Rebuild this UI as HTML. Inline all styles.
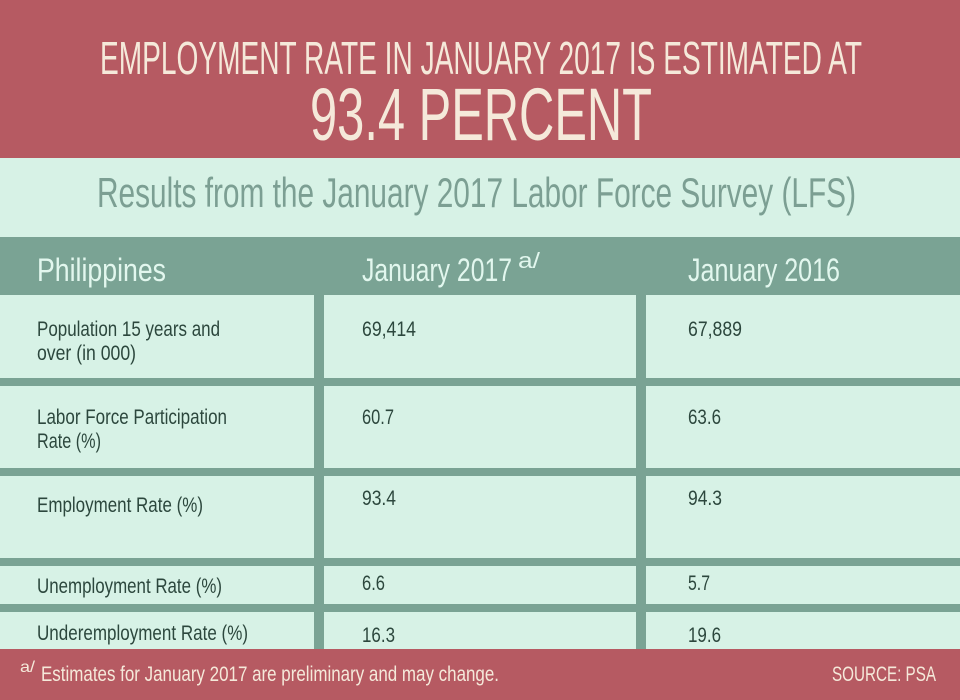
<!DOCTYPE html>
<html><head><meta charset="utf-8"><style>html,body{margin:0;padding:0;background:#d7f2e6}svg{display:block}text{font-family:"Liberation Sans",sans-serif}</style></head>
<body>
<svg width="960" height="700" viewBox="0 0 960 700">
<rect x="0" y="0" width="960" height="158" fill="#b65a62"/>
<text x="100" y="74" font-size="46" fill="#f5e9da" textLength="762" lengthAdjust="spacingAndGlyphs">EMPLOYMENT RATE IN JANUARY 2017 IS ESTIMATED AT</text>
<text x="310" y="140" font-size="74" fill="#f5e9da" textLength="342" lengthAdjust="spacingAndGlyphs">93.4 PERCENT</text>
<rect x="0" y="158" width="960" height="79" fill="#d7f2e6"/>
<text x="97" y="207" font-size="42" fill="#7c9f93" textLength="759" lengthAdjust="spacingAndGlyphs">Results from the January 2017 Labor Force Survey (LFS)</text>
<rect x="0" y="237" width="960" height="413" fill="#7aa394"/>
<g fill="#d7f2e6">
<rect x="0" y="295" width="314" height="83"/><rect x="324" y="295" width="312" height="83"/><rect x="646" y="295" width="314" height="83"/>
<rect x="0" y="386" width="314" height="82"/><rect x="324" y="386" width="312" height="82"/><rect x="646" y="386" width="314" height="82"/>
<rect x="0" y="476" width="314" height="82"/><rect x="324" y="476" width="312" height="82"/><rect x="646" y="476" width="314" height="82"/>
<rect x="0" y="566" width="314" height="38"/><rect x="324" y="566" width="312" height="38"/><rect x="646" y="566" width="314" height="38"/>
<rect x="0" y="612" width="314" height="38"/><rect x="324" y="612" width="312" height="38"/><rect x="646" y="612" width="314" height="38"/>
</g>
<g fill="#e2f7ee" font-size="32">
<text x="37" y="281" textLength="129" lengthAdjust="spacingAndGlyphs">Philippines</text>
<text x="362" y="281" textLength="150" lengthAdjust="spacingAndGlyphs">January 2017</text>
<text x="518" y="268" font-size="22" textLength="22" lengthAdjust="spacingAndGlyphs">a/</text>
<text x="688" y="281" textLength="152" lengthAdjust="spacingAndGlyphs">January 2016</text>
</g>
<g fill="#2c473d" font-size="21">
<text x="37" y="336" textLength="183" lengthAdjust="spacingAndGlyphs">Population 15 years and</text>
<text x="37" y="360" textLength="99" lengthAdjust="spacingAndGlyphs">over (in 000)</text>
<text x="362" y="336" textLength="54" lengthAdjust="spacingAndGlyphs">69,414</text>
<text x="688" y="336" textLength="54" lengthAdjust="spacingAndGlyphs">67,889</text>
<text x="37" y="424" textLength="190" lengthAdjust="spacingAndGlyphs">Labor Force Participation</text>
<text x="37" y="448" textLength="64" lengthAdjust="spacingAndGlyphs">Rate (%)</text>
<text x="362" y="424" textLength="32" lengthAdjust="spacingAndGlyphs">60.7</text>
<text x="688" y="424" textLength="33" lengthAdjust="spacingAndGlyphs">63.6</text>
<text x="37" y="512" textLength="166" lengthAdjust="spacingAndGlyphs">Employment Rate (%)</text>
<text x="362" y="505" textLength="34" lengthAdjust="spacingAndGlyphs">93.4</text>
<text x="688" y="505" textLength="34" lengthAdjust="spacingAndGlyphs">94.3</text>
<text x="37" y="593" textLength="185" lengthAdjust="spacingAndGlyphs">Unemployment Rate (%)</text>
<text x="362" y="590" textLength="23" lengthAdjust="spacingAndGlyphs">6.6</text>
<text x="688" y="590" textLength="22" lengthAdjust="spacingAndGlyphs">5.7</text>
<text x="37" y="640" textLength="211" lengthAdjust="spacingAndGlyphs">Underemployment Rate (%)</text>
<text x="362" y="642" textLength="33" lengthAdjust="spacingAndGlyphs">16.3</text>
<text x="688" y="642" textLength="33" lengthAdjust="spacingAndGlyphs">19.6</text>
</g>
<rect x="0" y="649" width="960" height="51" fill="#b65a62"/>
<text x="20" y="672" font-size="16" fill="#f5e9da" textLength="15" lengthAdjust="spacingAndGlyphs">a/</text>
<text x="41" y="681" font-size="21" fill="#f5e9da" textLength="458" lengthAdjust="spacingAndGlyphs">Estimates for January 2017 are preliminary and may change.</text>
<text x="832" y="681" font-size="21" fill="#f5e9da" textLength="104" lengthAdjust="spacingAndGlyphs">SOURCE: PSA</text>
</svg>
</body></html>
